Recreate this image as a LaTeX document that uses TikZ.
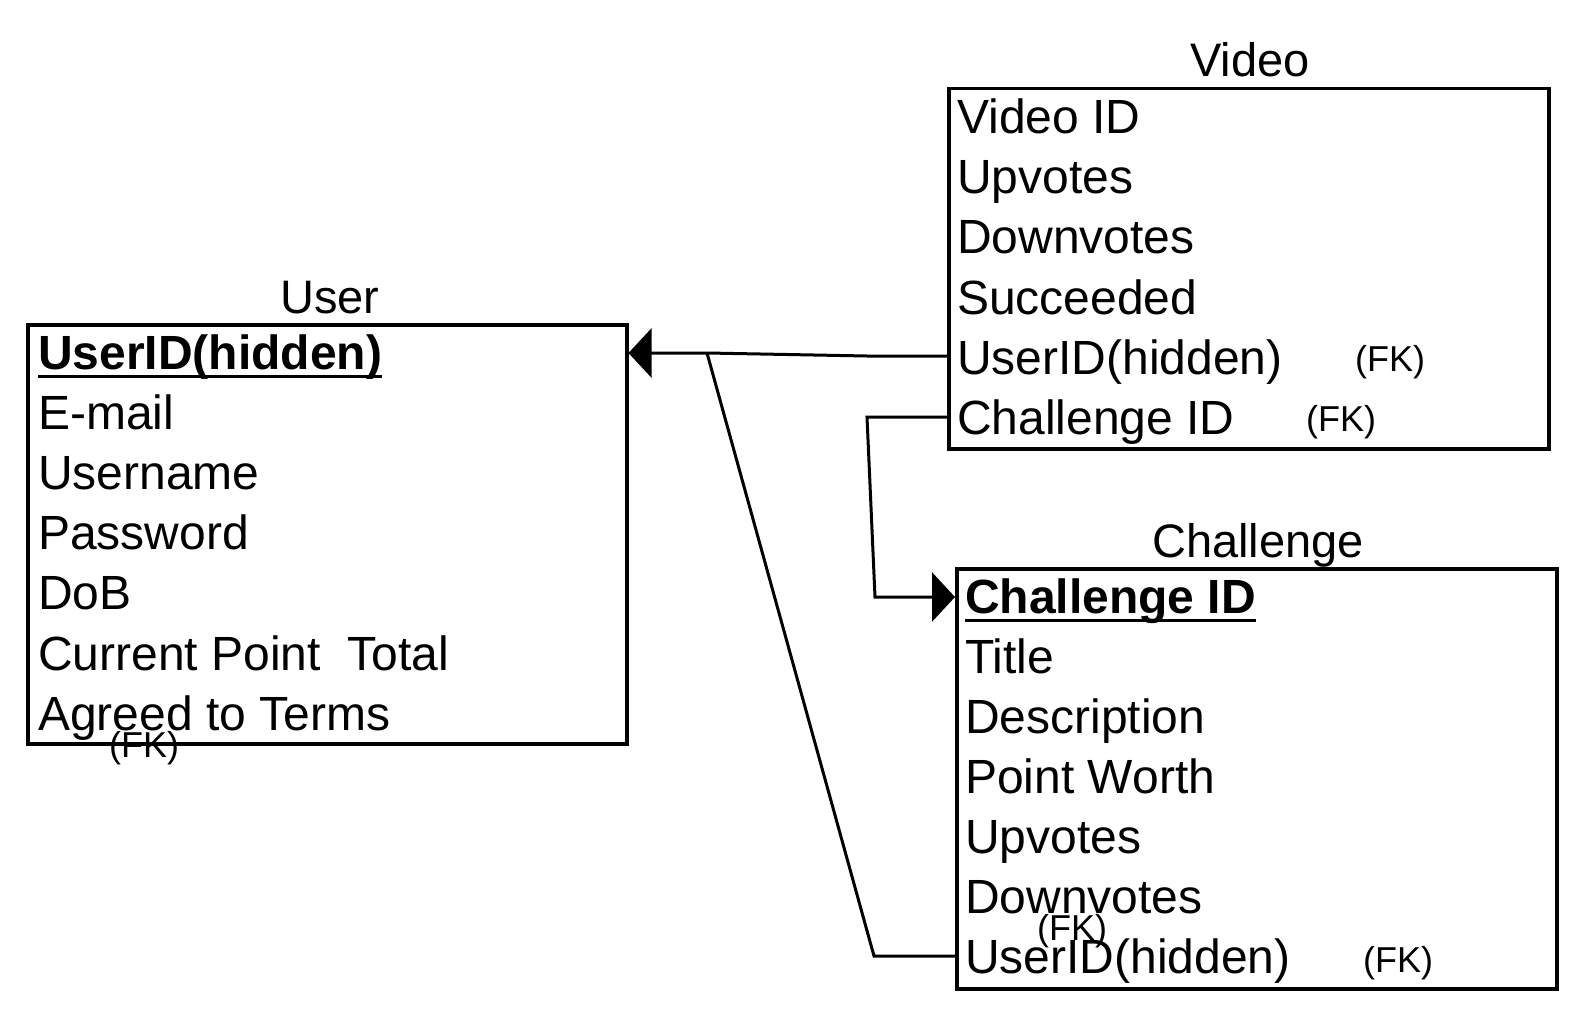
\documentclass[tikz,border=0pt]{standalone}
\usepackage{fontspec}
\setmainfont{Liberation Sans}
\usetikzlibrary{arrows.meta}
\begin{document}
\begin{tikzpicture}[x=1pt,y=-1pt,
  tbox/.style={draw=black, line width=3.5pt, inner sep=0pt, anchor=north west},
  row/.style={anchor=base west, inner sep=0pt, font=\fontsize{48}{57}\selectfont},
  rowb/.style={anchor=base west, inner sep=0pt, font=\fontsize{48}{57}\selectfont\bfseries},
  ttl/.style={anchor=base, inner sep=0pt, font=\fontsize{47}{56}\selectfont},
  fk/.style={anchor=base west, inner sep=0pt, font=\fontsize{36}{43}\selectfont},
  conn/.style={draw=black, line width=3pt, line join=miter},
  arrowend/.style={-{Triangle[length=23pt,width=49pt]}},
  uline/.style={line width=3pt}
]
\path[use as bounding box, fill=white] (0,0) rectangle (1584,1016);

% boxes
\node[tbox, minimum width=599pt, minimum height=419pt] (user) at (26,323) {};
\node[tbox, minimum width=600pt, minimum height=360pt] (video) at (947,87) {};
\node[tbox, minimum width=600pt, minimum height=420pt] (chal) at (955,567) {};

% titles
\node[ttl] (userT) at (330,313) {User};
\node[ttl] (videoT) at (1250,77) {Video};
\node[ttl] (chalT) at (1258,557) {Challenge};

% user rows
\node[rowb] (u1) at (38,369.5) {UserID(hidden)};
\node[row] (u2) at (38,429.6) {E-mail};
\node[row] (u3) at (38,489.7) {Username};
\node[row] (u4) at (38,549.8) {Password};
\node[row] (u5) at (38,609.9) {DoB};
\node[row] (u6) at (38,670) {Current Point~~Total};
\node[row] (u7) at (38,730) {Agreed to Terms};
\node[fk] (ufk) at (109,757) {(FK)};
\draw[uline] ([yshift=-7pt]u1.base west) -- ([yshift=-7pt]u1.base east);

% video rows
\node[row] (v1) at (957,134) {Video ID};
\node[row] (v2) at (957,194) {Upvotes};
\node[row] (v3) at (957,254) {Downvotes};
\node[row] (v4) at (957,314.2) {Succeeded};
\node[row] (v5) at (957,374.2) {UserID(hidden)};
\node[row] (v6) at (957,434.5) {Challenge ID};
\node[fk] (vfk1) at (1355,371) {(FK)};
\node[fk] (vfk2) at (1306,431.5) {(FK)};

% challenge rows
\node[rowb] (c1) at (965,613) {Challenge ID};
\node[row] (c2) at (965,673) {Title};
\node[row] (c3) at (965,733) {Description};
\node[row] (c4) at (965,793) {Point Worth};
\node[row] (c5) at (965,853) {Upvotes};
\node[row] (c6) at (965,913) {Downvotes};
\node[row] (c7) at (965,973) {UserID(hidden)};
\node[fk] (cfk0) at (1037,940) {(FK)};
\node[fk] (cfk1) at (1363,972) {(FK)};
\draw[uline] ([yshift=-7pt]c1.base west) -- ([yshift=-7pt]c1.base east);

% connector helper coordinates
\coordinate (yUU) at (0,353);
\coordinate (yVU) at (0,356);
\coordinate (yVC) at (0,417);
\coordinate (yCC) at (0,597);
\coordinate (yCU) at (0,956);
\coordinate (jA) at (707,353);
\coordinate (kA) at (867,356);
\coordinate (kB1) at (867,417);
\coordinate (kB2) at (875,597);
\coordinate (kC) at (874,956);

% connectors
\draw[conn, arrowend] (video.west |- yVU) -- (kA) -- (jA) -- (user.east |- yUU);
\draw[conn, arrowend] (video.west |- yVC) -- (kB1) -- (kB2) -- (chal.west |- yCC);
\draw[conn] (jA) -- (kC) -- (chal.west |- yCU);
\end{tikzpicture}
\end{document}
